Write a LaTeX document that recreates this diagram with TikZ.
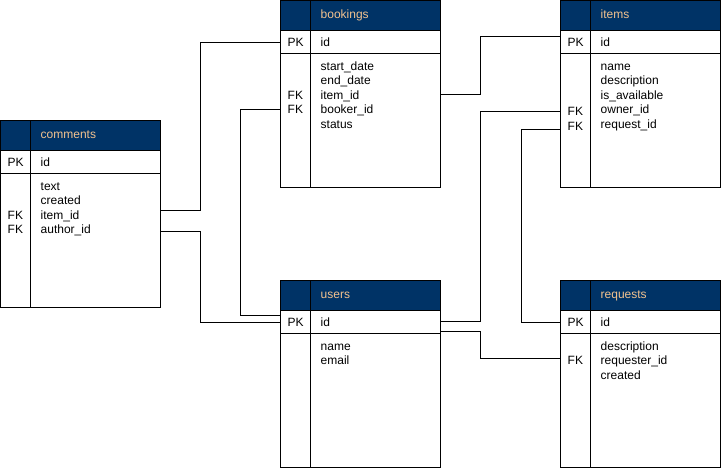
\documentclass[tikz,border=0pt]{standalone}
\usepackage{fontspec}
\setmainfont{Liberation Sans}
\usetikzlibrary{calc}
\definecolor{hdr}{RGB}{0,51,102}
\definecolor{ttl}{RGB}{242,194,143}
\tikzset{
  tbl/.style={draw=black, line width=1pt, minimum width=160pt, minimum height=187pt,
              inner sep=0pt, outer sep=0pt, anchor=north west},
  txt/.style={font=\fontsize{12}{14}\selectfont, inner sep=0pt, anchor=base west},
  ttltxt/.style={txt, text=ttl},
  conn/.style={draw=black, line width=1pt},
  rule/.style={draw=black, line width=1pt},
}
\newcommand\ertable[5]{% name, x, y, title, fields
  \node[tbl] (#1) at (#2,#3) {};
  \path[fill=hdr, rule] (#1.north west) rectangle ($(#1.north east)+(0,30)$);
  \draw[rule] ($(#1.north west)+(0,53)$) -- ($(#1.north east)+(0,53)$);
  \draw[rule] ($(#1.north west)+(30,0)$) -- ($(#1.south west)+(30,0)$);
  \node[ttltxt] (#1-t) at ($(#1.north west)+(40,18.3)$) {#4};
  \node[txt] (#1-pk) at ($(#1.north west)+(7,45.8)$) {PK};
  \node[txt] (#1-id) at ($(#1.north west)+(40,45.8)$) {id};
  \foreach \f [count=\i from 0] in {#5} {
    \node[txt] (#1-f\i) at ($(#1.north west)+(40,69.5+14.6*\i)$) {\f};
  }
}
\newcommand\fkey[3]{% name, index, extra offset
  \node[txt] (#1-fk#2) at ($(#1.north west)+(7,69.5+14.6*#2+#3)$) {FK};
}
\begin{document}
\begin{tikzpicture}[x=1pt,y=-1pt]
\useasboundingbox (0,0) rectangle (721,472);
\fill[white] (0,0) rectangle (721,472);

\ertable{comments}{0.5}{120.5}{comments}{text,created,item\_id,author\_id}
\fkey{comments}{2}{0}\fkey{comments}{3}{0}

\ertable{bookings}{280.5}{0.5}{bookings}{start\_date,end\_date,item\_id,booker\_id,status}
\fkey{bookings}{2}{0}\fkey{bookings}{3}{0}

\ertable{items}{560.5}{0.5}{items}{name,description,is\_available,owner\_id,request\_id}
\fkey{items}{3}{2}\fkey{items}{4}{2}

\ertable{users}{280.5}{280.5}{users}{name,email}

\ertable{requests}{560.5}{280.5}{requests}{description,requester\_id,created}
\fkey{requests}{1}{0}

% connector end points
\coordinate (c-item)  at ($(comments.north east)+(0,89.5)$);
\coordinate (c-auth)  at ($(comments.north east)+(0,110.5)$);
\coordinate (b-id)    at ($(bookings.north west)+(0,41.5)$);
\coordinate (b-book)  at ($(bookings.north west)+(0,108.5)$);
\coordinate (b-item)  at ($(bookings.north east)+(0,93.5)$);
\coordinate (i-id)    at ($(items.north west)+(0,35.5)$);
\coordinate (i-own)   at ($(items.north west)+(0,110.5)$);
\coordinate (i-req)   at ($(items.north west)+(0,128.5)$);
\coordinate (u-id1)   at ($(users.north west)+(0,34.5)$);
\coordinate (u-id2)   at ($(users.north west)+(0,41.5)$);
\coordinate (u-o)     at ($(users.north east)+(0,40.5)$);
\coordinate (u-r)     at ($(users.north east)+(0,50.5)$);
\coordinate (r-id)    at ($(requests.north west)+(0,41.5)$);
\coordinate (r-req)   at ($(requests.north west)+(0,77.5)$);

\draw[conn] (c-item) -- ++(40,0) |- (b-id);
\draw[conn] (c-auth) -- ++(40,0) |- (u-id2);
\draw[conn] (b-book) -- ++(-40,0) |- (u-id1);
\draw[conn] (b-item) -- ++(40,0) |- (i-id);
\draw[conn] (i-own) -- ++(-80,0) |- (u-o);
\draw[conn] (i-req) -- ++(-39,0) |- (r-id);
\draw[conn] (u-r) -- ++(40,0) |- (r-req);
\end{tikzpicture}
\end{document}
